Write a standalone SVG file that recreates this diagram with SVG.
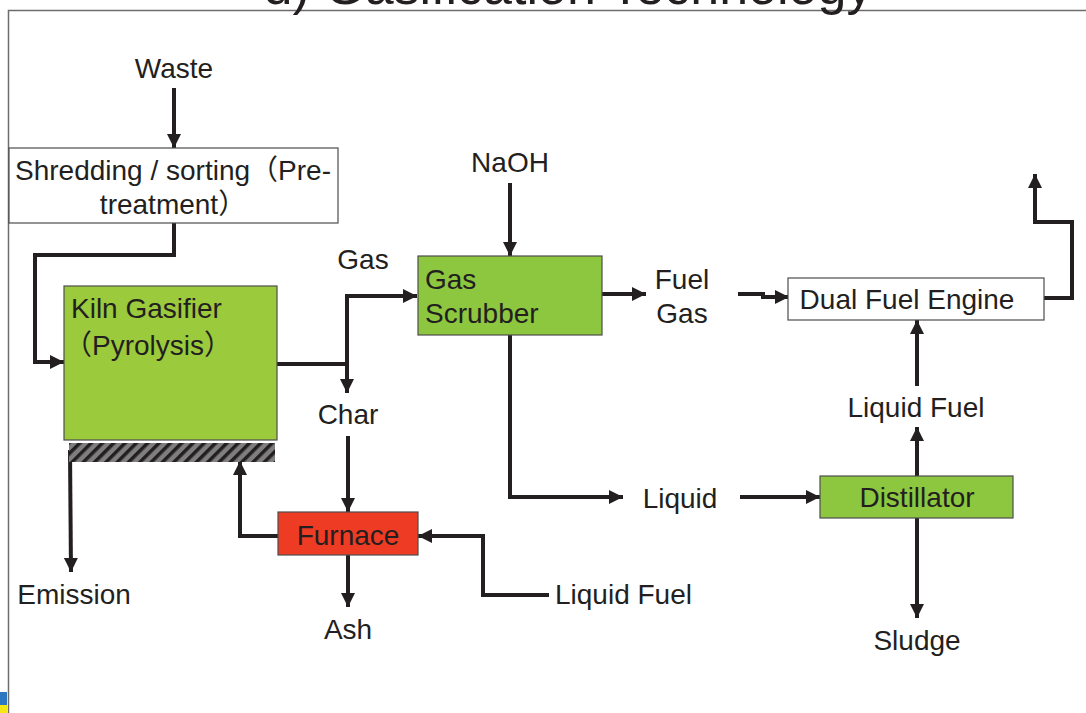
<svg xmlns="http://www.w3.org/2000/svg" width="1086" height="713" viewBox="0 0 1086 713">
<style>
text{font-family:"Liberation Sans","Noto Sans CJK JP",Arial,sans-serif;font-size:28px;fill:#231F20}
.c{text-anchor:middle}
.box{stroke:#4D4D4D;stroke-width:1.2}
.ln{fill:none;stroke:#231F20;stroke-width:4;stroke-linejoin:miter}
</style>
<defs>
<marker id="ah" markerUnits="userSpaceOnUse" markerWidth="16" markerHeight="16" refX="14" refY="8" orient="auto">
<path d="M0,1 L14,8 L0,15 Z" fill="#231F20"/>
</marker>
<pattern id="hatch" patternUnits="userSpaceOnUse" width="8" height="8" patternTransform="rotate(45)">
<rect width="8" height="8" fill="#7F7F7F"/>
<rect width="3.5" height="8" fill="#231F20"/>
</pattern>
</defs>
<rect width="1086" height="713" fill="#fff"/>
<g id="frame">
<path d="M8.5,713 V10.5 H1086" fill="none" stroke="#6D6D6D" stroke-width="1.5"/>
<text x="568" y="4" class="c" style="font-size:52px">d) Gasification Technology</text>
<rect x="0" y="692" width="7" height="13" fill="#2C77BF"/>
<rect x="0" y="705" width="7" height="8" fill="#F5E616"/>
</g>
<g id="connectors">
<path class="ln" d="M174,88 V148" marker-end="url(#ah)"/>
<path class="ln" d="M174,223 V255 H35 V362 H64" marker-end="url(#ah)"/>
<path class="ln" d="M277,364 H347 V393" marker-end="url(#ah)"/>
<path class="ln" d="M347,364 V296 H417" marker-end="url(#ah)"/>
<path class="ln" d="M70,450 L71,572" marker-end="url(#ah)"/>
<path class="ln" d="M278,536 H240 V461" marker-end="url(#ah)"/>
<path class="ln" d="M348,436 V512" marker-end="url(#ah)"/>
<path class="ln" d="M348,555 V607" marker-end="url(#ah)"/>
<path class="ln" d="M549,595 H483 V536 H418" marker-end="url(#ah)"/>
<path class="ln" d="M510,183 V256" marker-end="url(#ah)"/>
<path class="ln" d="M602,294 H646" marker-end="url(#ah)"/>
<path class="ln" d="M738,294 H763 V297 H789" marker-end="url(#ah)"/>
<path class="ln" d="M1044,298 H1072 V222 H1035 V174" marker-end="url(#ah)"/>
<path class="ln" d="M510,335 V497 H623" marker-end="url(#ah)"/>
<path class="ln" d="M740,497 H820" marker-end="url(#ah)"/>
<path class="ln" d="M917,476 V427" marker-end="url(#ah)"/>
<path class="ln" d="M917,386 V320" marker-end="url(#ah)"/>
<path class="ln" d="M917,518 V618" marker-end="url(#ah)"/>
</g>
<g id="waste"><text x="174" y="78" class="c">Waste</text></g>
<g id="shredding">
<rect class="box" x="9" y="148" width="329" height="75" fill="#fff"/>
<text x="173" y="180" class="c">Shredding / sorting（Pre-</text>
<text x="173" y="214" class="c">treatment）</text>
</g>
<g id="kiln">
<rect class="box" x="64" y="286" width="213" height="154" fill="#9BCA3C"/>
<text x="71" y="318">Kiln Gasifier</text>
<text x="64" y="355">（Pyrolysis）</text>
<rect x="69" y="443" width="206" height="19" fill="url(#hatch)"/>
</g>
<g id="gas"><text x="363" y="269" class="c">Gas</text></g>
<g id="char"><text x="348" y="424" class="c">Char</text></g>
<g id="emission"><text x="74" y="604" class="c">Emission</text></g>
<g id="furnace">
<rect class="box" x="278" y="512" width="140" height="43" fill="#EE3B24"/>
<text x="348" y="545" class="c">Furnace</text>
</g>
<g id="ash"><text x="348" y="639" class="c">Ash</text></g>
<g id="liquidfuel1"><text x="555" y="604">Liquid Fuel</text></g>
<g id="naoh"><text x="510" y="172" class="c">NaOH</text></g>
<g id="scrubber">
<rect class="box" x="418" y="256" width="184" height="79" fill="#8DC63F"/>
<text x="425" y="289">Gas</text>
<text x="425" y="323">Scrubber</text>
</g>
<g id="fuelgas">
<text x="682" y="289" class="c">Fuel</text>
<text x="682" y="323" class="c">Gas</text>
</g>
<g id="engine">
<rect class="box" x="788" y="278" width="256" height="42" fill="#fff"/>
<text x="907" y="309" class="c">Dual Fuel Engine</text>
</g>
<g id="liquid"><text x="680" y="508" class="c">Liquid</text></g>
<g id="distillator">
<rect class="box" x="820" y="476" width="193" height="42" fill="#8DC63F"/>
<text x="917" y="507" class="c">Distillator</text>
</g>
<g id="liquidfuel2"><text x="916" y="417" class="c">Liquid Fuel</text></g>
<g id="sludge"><text x="917" y="650" class="c">Sludge</text></g>
</svg>
